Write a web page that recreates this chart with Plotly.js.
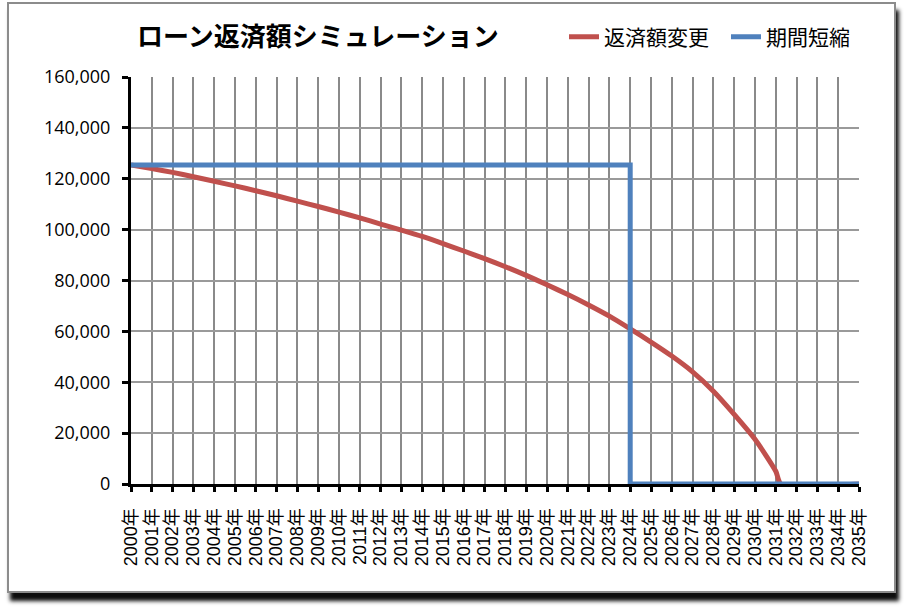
<!DOCTYPE html>
<html>
<head>
<meta charset="utf-8">
<script src="https://cdn.plot.ly/plotly-3.0.1.min.js"></script>
<style>
  html, body { margin: 0; padding: 0; background: #ffffff; }
  #frame {
    position: absolute; left: 7px; top: 2px;
    width: 885px; height: 587px;
    border: 2px solid #8c8c8c;
    box-shadow: 3px 8px 4px rgba(0,0,0,0.95);
    background: #ffffff;
  }
  #chart { width: 885px; height: 587px; }
</style>
</head>
<body>
<div id="frame"><div id="chart"></div></div>
<script>
// ---- data ----
const chartTitle = "ローン返済額シミュレーション";
const seriesNames = ["返済額変更", "期間短縮"];

// 返済額変更 (red)
const changeYears = [2000, 2001, 2002, 2003, 2004, 2005, 2006, 2007, 2008, 2009,
                     2010, 2011, 2012, 2013, 2014, 2015, 2016, 2017, 2018, 2019,
                     2020, 2021, 2022, 2023, 2024, 2025, 2026, 2027, 2028, 2029,
                     2030, 2031, 2031.25, 2035];
const changeValues = [125400, 124000, 122500, 120800, 119000, 117200, 115300, 113300, 111200, 109100,
                      106900, 104600, 102200, 99800, 97300, 94500, 91600, 88600, 85400, 82000,
                      78300, 74500, 70400, 66000, 61000, 55800, 50300, 44100, 36500, 27400,
                      17600, 5000, 0, 0];

// 期間短縮 (blue)
const shortenYears = [2000, 2024, 2024, 2035];
const shortenValues = [125400, 125400, 0, 0];

// x tick labels
const tickYears = [2000, 2001, 2002, 2003, 2004, 2005, 2006, 2007, 2008, 2009,
                   2010, 2011, 2012, 2013, 2014, 2015, 2016, 2017, 2018, 2019,
                   2020, 2021, 2022, 2023, 2024, 2025, 2026, 2027, 2028, 2029,
                   2030, 2031, 2032, 2033, 2034, 2035];
const tickLabels = ["2000年", "2001年", "2002年", "2003年", "2004年", "2005年", "2006年", "2007年", "2008年", "2009年",
                    "2010年", "2011年", "2012年", "2013年", "2014年", "2015年", "2016年", "2017年", "2018年", "2019年",
                    "2020年", "2021年", "2022年", "2023年", "2024年", "2025年", "2026年", "2027年", "2028年", "2029年",
                    "2030年", "2031年", "2032年", "2033年", "2034年", "2035年"];

// ---- chart ----
const traces = [
  {
    type: "scatter", mode: "lines", name: seriesNames[0],
    x: changeYears, y: changeValues,
    line: { color: "#C0504D", width: 5, shape: "spline", smoothing: 0.6 },
    legend: "legend",
    hoverinfo: "skip"
  },
  {
    type: "scatter", mode: "lines", name: seriesNames[1],
    x: shortenYears, y: shortenValues,
    line: { color: "#4F81BD", width: 5 },
    legend: "legend2",
    hoverinfo: "skip"
  }
];

const legendFont = { family: "'Noto Sans CJK JP', sans-serif", size: 21, color: "#000000" };

const layout = {
  width: 885, height: 587,
  margin: { l: 122, r: 35, t: 73, b: 107 },
  paper_bgcolor: "#ffffff", plot_bgcolor: "#ffffff",
  font: { family: "'Noto Sans CJK JP', 'Liberation Sans', sans-serif", color: "#000000" },
  title: {
    text: chartTitle,
    font: { family: "'Noto Sans CJK JP', sans-serif", size: 26, weight: "bold", color: "#000000" },
    xref: "container", yref: "container",
    x: 0.349, xanchor: "center",
    y: 0.944, yanchor: "middle"
  },
  showlegend: true,
  legend: {
    orientation: "h",
    x: 0.5948, xanchor: "left",
    y: 1.098, yanchor: "middle",
    font: legendFont,
    bgcolor: "rgba(0,0,0,0)",
    itemclick: false
  },
  legend2: {
    orientation: "h",
    x: 0.8173, xanchor: "left",
    y: 1.098, yanchor: "middle",
    font: legendFont,
    bgcolor: "rgba(0,0,0,0)",
    itemclick: false
  },
  xaxis: {
    type: "linear",
    range: [2000, 2035],
    tickmode: "array",
    tickvals: tickYears,
    ticktext: tickLabels,
    tickangle: -90,
    tickfont: { family: "'Liberation Sans', 'Noto Sans CJK JP', sans-serif", size: 18, color: "#000000" },
    ticks: "outside", ticklen: 5, tickwidth: 3, tickcolor: "#000000",
    ticklabelstandoff: 9,
    showline: true, linecolor: "#000000", linewidth: 3,
    showgrid: true, gridcolor: "#8a8a8a", gridwidth: 2,
    zeroline: false,
    layer: "below traces",
    fixedrange: true
  },
  yaxis: {
    range: [0, 160000],
    tickmode: "linear", tick0: 0, dtick: 20000,
    tickformat: ",d",
    tickfont: { family: "'Open Sans', sans-serif", size: 18, color: "#000000" },
    ticks: "outside", ticklen: 6, tickwidth: 3, tickcolor: "#000000",
    ticklabelstandoff: 8,
    showline: true, linecolor: "#000000", linewidth: 3,
    showgrid: true, gridcolor: "#9a9a9a", gridwidth: 2,
    zeroline: false,
    layer: "below traces",
    fixedrange: true
  }
};

Plotly.newPlot("chart", traces, layout, { displayModeBar: false, staticPlot: true });
</script>
</body>
</html>
